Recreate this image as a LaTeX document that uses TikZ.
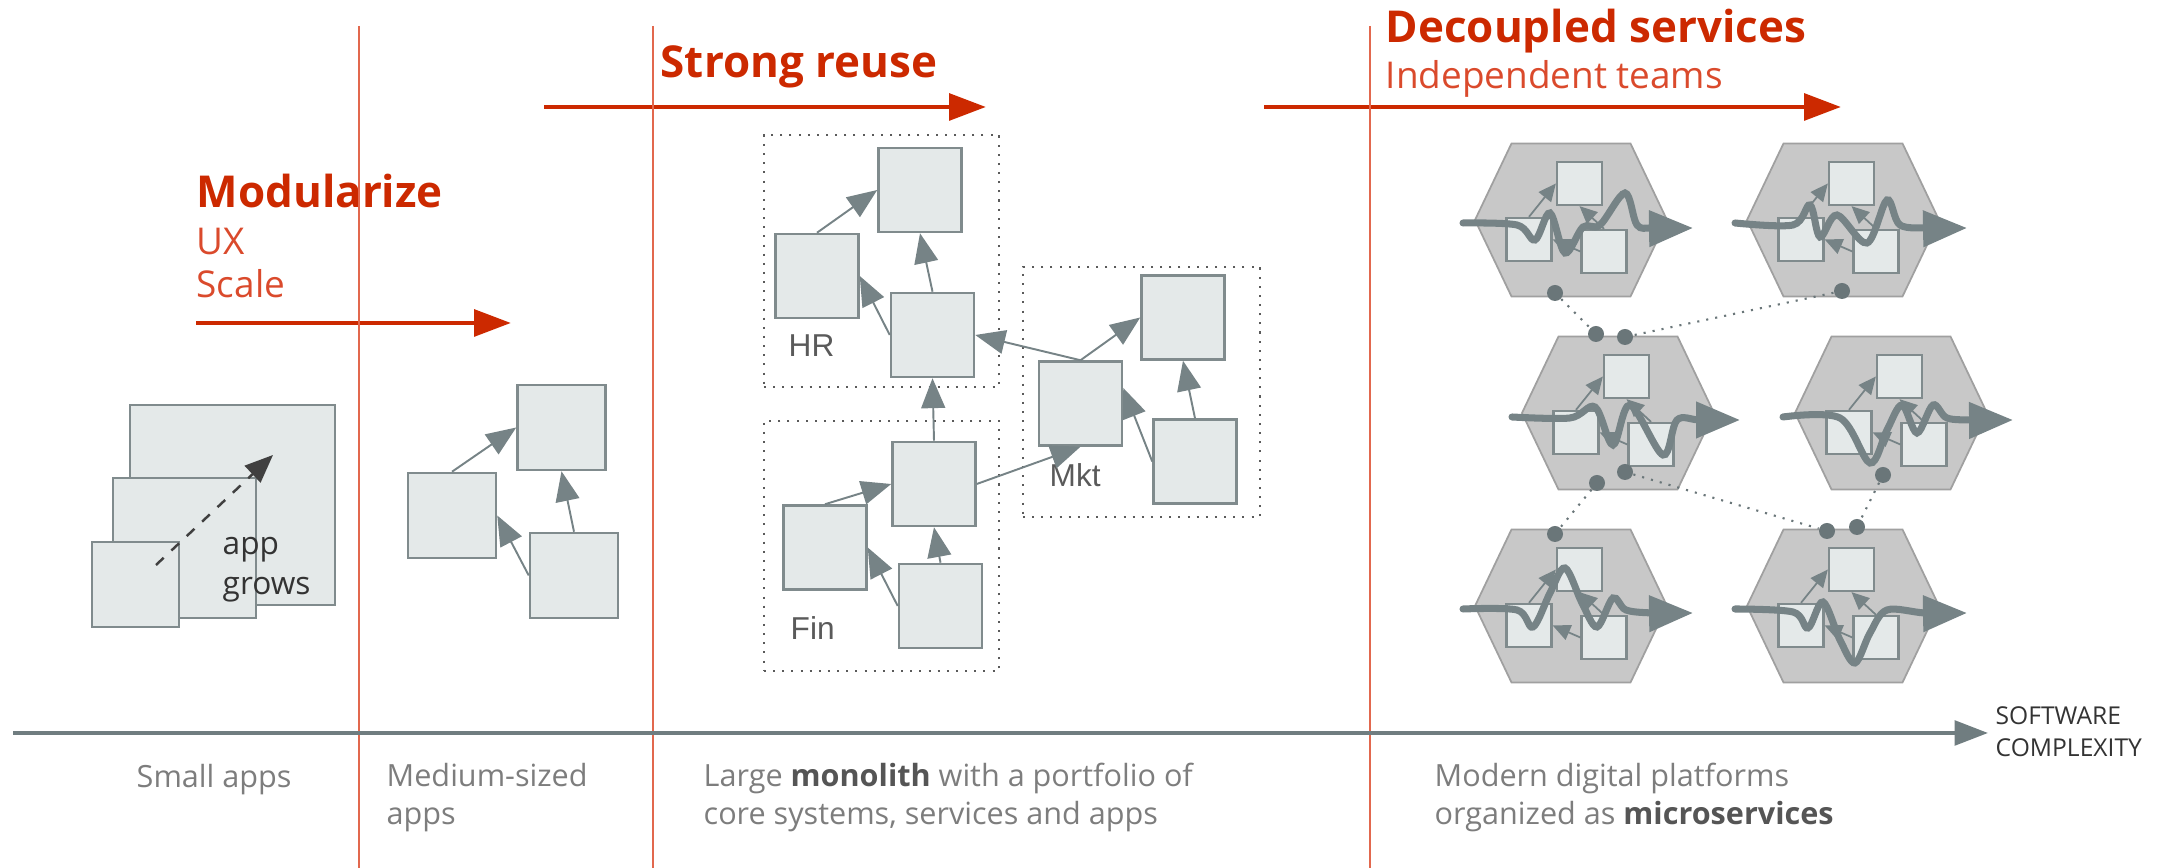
\documentclass[tikz,border=0pt]{standalone}
\usepackage{fontspec}
\setmainfont{Open Sans}
\newfontfamily\arialfont{Liberation Sans}
\usepackage{tikz}
\usetikzlibrary{arrows.meta}
\usepackage{xcolor}

\definecolor{stagered}{RGB}{204,41,0}
\definecolor{subred}{RGB}{218,74,44}
\definecolor{divred}{RGB}{226,104,78}
\definecolor{boxfill}{RGB}{228,233,233}
\definecolor{boxline}{RGB}{128,139,141}
\definecolor{linkgray}{RGB}{118,131,134}
\definecolor{axisgray}{RGB}{112,125,128}
\definecolor{hexfill}{RGB}{200,200,200}
\definecolor{hexline}{RGB}{160,160,160}
\definecolor{capgray}{RGB}{125,125,125}
\definecolor{boldgray}{RGB}{85,85,85}
\definecolor{lblgray}{RGB}{90,90,90}

\newcommand{\hl}[1]{\textbf{\textcolor{boldgray}{#1}}}

\tikzset{
  appbox/.style={draw=boxline, fill=boxfill, line width=0.7pt, minimum width=0.83cm, minimum height=0.84cm, inner sep=0},
  dep/.style={draw=linkgray, line width=0.55pt, -{Triangle[length=8.5pt,width=6.8pt]}},
  groupbox/.style={draw=lblgray, dotted, line width=0.6pt, inner sep=0},
  divider/.style={draw=divred, line width=0.6pt},
  stagearrow/.style={draw=stagered, line width=1.4pt, -{Triangle[length=10.5pt,width=7.5pt]}},
  stagetitle/.style={font=\bfseries\fontsize{12.5}{15}\selectfont, text=stagered, anchor=base west, inner sep=0},
  subline/.style={font=\fontsize{10.5}{13}\selectfont, text=subred, anchor=base west, inner sep=0},
  caption/.style={font=\fontsize{8.7}{11}\selectfont, text=capgray, anchor=base west, inner sep=0},
  grplabel/.style={font=\arialfont\fontsize{9}{11}\selectfont, text=lblgray, anchor=base west, inner sep=0},
  hexcell/.style={fill=hexfill, draw=hexline, line width=0.5pt},
  cellbox/.style={appbox, minimum width=0.45cm, minimum height=0.43cm, line width=0.65pt},
  celldep/.style={draw=linkgray, line width=0.5pt, -{Triangle[length=5pt,width=4.5pt]}},
  flowarrow/.style={draw=linkgray, line width=2pt, line cap=round, -{Triangle[length=12.5pt,width=10pt]}},
  port/.style={circle, fill=linkgray!90!black, inner sep=0, minimum size=0.16cm},
  portwire/.style={draw=linkgray!90!black, dotted, line width=0.6pt}
}

% one microservice: hexagon, three boxes, their links and the request flow
\newcommand{\svccell}[3]{%
  \begin{scope}[shift={(#2)}]
    \draw[hexcell] (-59.5,-76.5) -- (59.5,-76.5) -- (96,0) -- (59.5,76.5) -- (-59.5,76.5) -- (-96,0) -- cycle;
    \node[cellbox] (#1t) at (8.5,-36.5) {};
    \node[cellbox] (#1l) at (-42,19.5) {};
    \node[cellbox] (#1r) at (33,31.5) {};
    \draw[celldep] (#1l.north) -- (#1t.west);
    \draw[celldep] (#1r.north) -- (#1t.south);
    \draw[celldep] (#1r.west) -- (#1l.east);
    \draw[flowarrow] plot[smooth, tension=0.55] coordinates {#3};
  \end{scope}}

\begin{document}
\begin{tikzpicture}[x=0.01cm, y=-0.01cm]
    \useasboundingbox (0,0) rectangle (2159,868);

    % stage titles
    \node[stagetitle] (modtitle) at (196,208) {Modularize};
    \node[subline] (ux) at (196,255) {UX};
    \node[subline] (scale) at (196,298) {Scale};
    \node[stagetitle] (reusetitle) at (660,78) {Strong reuse};
    \node[stagetitle] (dectitle) at (1385,43) {Decoupled services};
    \node[subline] (teams) at (1385,89) {Independent teams};

    \coordinate (modA) at (196,323);
    \coordinate (modB) at (511,323);
    \coordinate (reuseA) at (544,107);
    \coordinate (reuseB) at (986,107);
    \coordinate (decA) at (1264,107);
    \coordinate (decB) at (1841,107);
    \draw[stagearrow] (modA) -- (modB);
    \draw[stagearrow] (reuseA) -- (reuseB);
    \draw[stagearrow] (decA) -- (decB);

    % small apps
    \node[appbox, minimum width=2.05cm, minimum height=2.0cm] (big) at (232.5,505) {};
    \node[appbox, minimum width=1.43cm, minimum height=1.4cm] (mid) at (184.5,548) {};
    \node[appbox, minimum width=0.87cm, minimum height=0.85cm] (small) at (135.5,584.5) {};
    \coordinate (growA) at (156,565);
    \coordinate (growB) at (273,455);
    \draw[draw=black!75, line width=0.7pt, dashed, -{Triangle[length=8pt,width=6.5pt]}] (growA) -- (growB);
    \node[caption, text=black!80, font=\fontsize{9}{11}\selectfont] (app) at (222,555) {app};
    \node[caption, text=black!80, font=\fontsize{9}{11}\selectfont] (grows) at (222,595) {grows};

    % medium-sized apps
    \node[appbox, minimum width=0.88cm, minimum height=0.85cm] (ma) at (452,515.5) {};
    \node[appbox, minimum width=0.88cm, minimum height=0.85cm] (mb) at (561.5,427.5) {};
    \node[appbox, minimum width=0.88cm, minimum height=0.85cm] (mc) at (574,575.5) {};
    \draw[dep] (ma.north) -- (mb.west);
    \draw[dep] (mc.north) -- (mb.south);
    \draw[dep] (mc.west) -- (ma.east);

    % monolith with domains
    \node[groupbox, minimum width=2.35cm, minimum height=2.52cm] (hr) at (881.5,261) {};
    \node[groupbox, minimum width=2.37cm, minimum height=2.5cm] (mkt) at (1141.5,392) {};
    \node[groupbox, minimum width=2.35cm, minimum height=2.5cm] (fin) at (881.5,546) {};
    \node[grplabel] (hrlbl) at (788,357) {HR};
    \node[grplabel] (mktlbl) at (1049,487) {Mkt};
    \node[grplabel] (finlbl) at (790,640) {Fin};

    \node[appbox] (h1) at (920,190) {};
    \node[appbox] (h2) at (817,276) {};
    \node[appbox] (h3) at (932.5,335) {};
    \node[appbox] (m1) at (1183,317.5) {};
    \node[appbox] (m2) at (1080.5,403.5) {};
    \node[appbox] (m3) at (1195,461.5) {};
    \node[appbox] (f1) at (934,484) {};
    \node[appbox] (f2) at (825,547.5) {};
    \node[appbox] (f3) at (940.5,606) {};
    \draw[dep] (h2.north) -- (h1.west);
    \draw[dep] (h3.north) -- (h1.south);
    \draw[dep] (h3.west) -- (h2.east);
    \draw[dep] (m2.north) -- (h3.east);
    \draw[dep] (m2.north) -- (m1.west);
    \draw[dep] (m3.north) -- (m1.south);
    \draw[dep] (m3.west) -- (m2.20);
    \draw[dep] (f1.north) -- (h3.south);
    \draw[dep] (f1.east) -- (m2.south);
    \draw[dep] (f2.north) -- (f1.west);
    \draw[dep] (f3.north) -- (f1.south);
    \draw[dep] (f3.west) -- (f2.east);

    % microservices
    \svccell{sa}{1571,220}{(-108,3) (-54,5) (-36,20) (-21,-7) (-6,33) (12,7) (29,5) (54,-27) (66,5) (82,8) (122,8)}
    \svccell{sb}{1843,220}{(-108,3) (-50,5) (-33,-15) (-23,17) (-6,-5) (24,23) (44,-20) (57,5) (87,8) (124,8)}
    \svccell{sc}{1618,413}{(-106,4) (-48,5) (-23,-6) (-5,32) (12,-8) (45,42) (59,7) (82,7) (122,7)}
    \svccell{sd}{1891,413}{(-108,4) (-51,5) (-21,50) (-4,17) (11,-8) (26,20) (42,-8) (56,5) (82,7) (122,7)}
    \svccell{se}{1571,606}{(-108,3) (-54,4) (-38,21) (-21,-13) (-6,-38) (11,-3) (26,21) (42,-8) (55,4) (82,7) (122,7)}
    \svccell{sf}{1843,606}{(-108,3) (-50,6) (-35,22) (-20,-4) (-3,34) (12,57) (27,27) (44,4) (82,7) (124,7)}

    \node[port] (pa) at (1555,293) {};
    \node[port] (pb) at (1842,291) {};
    \node[port] (pc1) at (1596,334) {};
    \node[port] (pc2) at (1625,337) {};
    \node[port] (pc3) at (1597,483) {};
    \node[port] (pc4) at (1625,472) {};
    \node[port] (pd) at (1883,475) {};
    \node[port] (pe) at (1555,534) {};
    \node[port] (pf1) at (1827,531) {};
    \node[port] (pf2) at (1857,527) {};
    \draw[portwire] (pa) -- (pc1);
    \draw[portwire] (pb) -- (pc2);
    \draw[portwire] (pc3) -- (pe);
    \draw[portwire] (pc4) -- (pf1);
    \draw[portwire] (pd) -- (pf2);

    % stage dividers
    \draw[divider] (359,26) -- (359,868);
    \draw[divider] (653,26) -- (653,868);
    \draw[divider] (1370,26) -- (1370,868);

    % complexity axis
    \node[font=\fontsize{7}{9}\selectfont, text=black!80, align=left, anchor=west, inner sep=0] (swc) at (1995,732) {SOFTWARE\\COMPLEXITY};
    \coordinate (axisA) at (13,733);
    \draw[draw=axisgray, line width=1.1pt, -{Triangle[length=9.5pt,width=7pt]}] (axisA) -- ([xshift=-0.07cm]swc.west |- axisA);

    % captions
    \node[caption] (cap1) at (136,788) {Small apps};
    \node[caption] (cap2a) at (386,787) {Medium-sized};
    \node[caption] (cap2b) at (386,825) {apps};
    \node[caption] (cap3a) at (703,787) {Large \hl{monolith} with a portfolio of};
    \node[caption] (cap3b) at (703,825) {core systems, services and apps};
    \node[caption] (cap4a) at (1434,787) {Modern digital platforms};
    \node[caption] (cap4b) at (1434,825) {organized as \hl{microservices}};
\end{tikzpicture}
\end{document}
